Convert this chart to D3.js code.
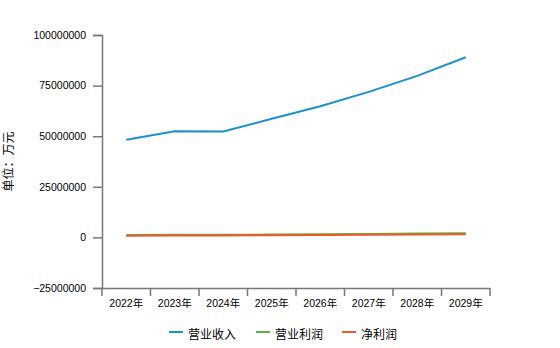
<!DOCTYPE html>
<html>
<head>
<meta charset="utf-8">
<script src="https://cdn.jsdelivr.net/npm/d3@7"></script>
<style>
  body { margin: 0; background: #fff; }
  svg { display: block; }
  text { font-family: "Liberation Sans", "Noto Sans CJK SC", sans-serif; fill: #000; }
</style>
</head>
<body>
<svg id="chart" width="560" height="348"></svg>
<script>
// Years and financial figures (unit: 万元)
const years = ["2022年", "2023年", "2024年", "2025年", "2026年", "2027年", "2028年", "2029年"];
const revenue = [48200000, 52400000, 52300000, 58600000, 64800000, 71900000, 79800000, 89000000];
const operatingProfit = [1150000, 1250000, 1300000, 1400000, 1550000, 1700000, 1900000, 2100000];
const netProfit = [850000, 920000, 950000, 1050000, 1150000, 1250000, 1400000, 1550000];
const seriesNames = ["营业收入", "营业利润", "净利润"];
const yTicks = [-25000000, 0, 25000000, 50000000, 75000000, 100000000];

const colors = ["#1b8fd0", "#5ab43a", "#f0582a"];
const series = [revenue, operatingProfit, netProfit];

const svg = d3.select("#chart");
const plotLeft = 102, plotRight = 490, plotTop = 35, plotBottom = 288;

const x = d3.scaleBand().domain(years).range([plotLeft, plotRight]);
const y = d3.scaleLinear().domain([-25000000, 100000000]).range([plotBottom, plotTop]);

// Y axis
const yAxis = svg.append("g")
  .attr("transform", `translate(${plotLeft},0)`)
  .call(d3.axisLeft(y).tickValues(yTicks).tickFormat(d3.format("d")).tickSizeInner(9).tickSizeOuter(9).tickPadding(7));
yAxis.selectAll("text").style("font-size", "10.5px");

// X axis
const xAxis = svg.append("g")
  .attr("transform", `translate(0,${plotBottom})`)
  .call(d3.axisBottom(x).tickSize(0).tickPadding(12));
xAxis.selectAll("text").style("font-size", "10.5px");
// tick marks at band boundaries
xAxis.selectAll(".bound")
  .data(years.map(d => x(d)).concat([x(years[years.length - 1]) + x.bandwidth()]))
  .join("line")
  .attr("class", "bound")
  .attr("x1", d => d).attr("x2", d => d)
  .attr("y1", 0).attr("y2", 8);

svg.selectAll(".domain, .tick line, .bound")
  .attr("stroke", "#777").attr("stroke-width", 1.5);

// Unit label
svg.append("text")
  .attr("transform", `translate(7,${(plotTop + plotBottom) / 2}) rotate(-90)`)
  .attr("text-anchor", "middle")
  .attr("dominant-baseline", "central")
  .style("font-size", "12px")
  .style("font-family", "'Noto Sans CJK SC', sans-serif")
  .text("单位：万元");

// Lines
const line = d3.line()
  .x((d, i) => x(years[i]) + x.bandwidth() / 2)
  .y(d => y(d));

series.forEach((s, i) => {
  svg.append("path")
    .datum(s)
    .attr("fill", "none")
    .attr("stroke", colors[i])
    .attr("stroke-width", 2)
    .attr("d", line);
});

// Legend
const legendX = [169, 256, 342];
const legend = svg.append("g");
seriesNames.forEach((name, i) => {
  legend.append("line")
    .attr("x1", legendX[i]).attr("x2", legendX[i] + 14)
    .attr("y1", 332).attr("y2", 332)
    .attr("stroke", colors[i]).attr("stroke-width", 2);
  legend.append("text")
    .attr("x", legendX[i] + 19).attr("y", 333)
    .attr("dominant-baseline", "central")
    .style("font-size", "12px")
    .style("font-family", "'Noto Sans CJK SC', sans-serif")
    .text(name);
});
</script>
</body>
</html>
